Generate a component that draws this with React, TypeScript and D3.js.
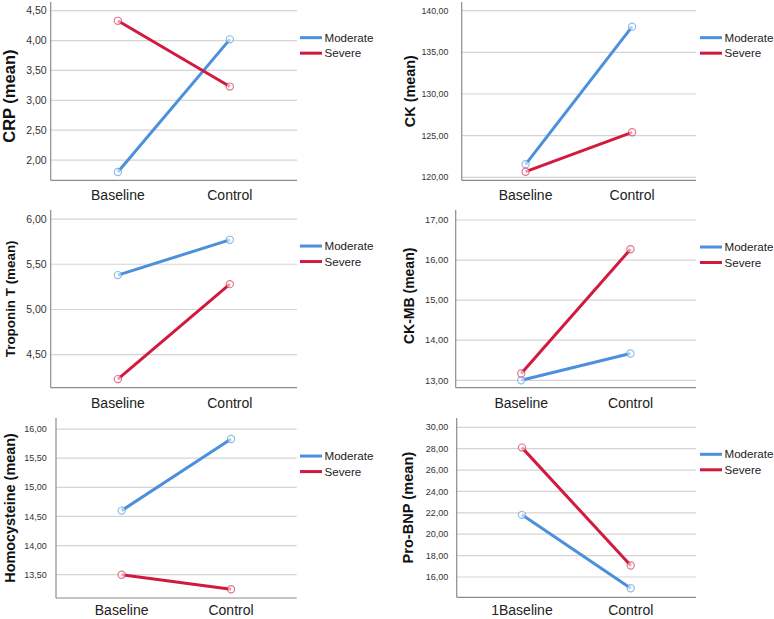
import * as d3 from "d3";

const categories = ["Baseline", "Control"];
const categoriesBnp = ["1Baseline", "Control"];
const seriesNames = ["Moderate", "Severe"];

const crpModerate = [1.8, 4.02];
const crpSevere = [4.33, 3.23];
const ckModerate = [121.56, 138.08];
const ckSevere = [120.67, 125.4];
const tropModerate = [5.38, 5.77];
const tropSevere = [4.23, 5.28];
const ckmbModerate = [13.0, 13.67];
const ckmbSevere = [13.17, 16.27];
const homoModerate = [14.6, 15.83];
const homoSevere = [13.5, 13.25];
const bnpModerate = [21.81, 14.94];
const bnpSevere = [28.1, 17.07];

const crpTicks = [2, 2.5, 3, 3.5, 4, 4.5];
const ckTicks = [120, 125, 130, 135, 140];
const tropTicks = [4.5, 5, 5.5, 6];
const ckmbTicks = [13, 14, 15, 16, 17];
const homoTicks = [13.5, 14, 14.5, 15, 15.5, 16];
const bnpTicks = [16, 18, 20, 22, 24, 26, 28, 30];

const colors = ["#4a90dc", "#d21a40"];
const font = "'Liberation Sans', Arial, sans-serif";

const fmt = (v: number) => d3.format(".2f")(v).replace(".", ",");

type Panel = {
  label: string;
  cats: string[];
  values: number[][];
  ticks: number[];
  domain: [number, number];
  left: number;
  right: number;
  top: number;
  bottom: number;
  tickX: number;
  tickSize: number;
  labelSize: number;
  labelX: number;
  labelDy: number;
  legendX: number;
};

const panels: Panel[] = [
  { label: "CRP (mean)", cats: categories, values: [crpModerate, crpSevere], ticks: crpTicks, domain: [1.662, 4.645],
    left: 50.7, right: 297, top: 2, bottom: 180.3, tickX: 46.7, tickSize: 10.5, labelSize: 16.5, labelX: 14.5, labelDy: 5, legendX: 300 },
  { label: "CK (mean)", cats: categories, values: [ckModerate, ckSevere], ticks: ckTicks, domain: [119.64, 141.04],
    left: 461.7, right: 696, top: 2, bottom: 180.3, tickX: 448.3, tickSize: 8.8, labelSize: 14.4, labelX: 414.5, labelDy: 0, legendX: 700 },
  { label: "Troponin T (mean)", cats: categories, values: [tropModerate, tropSevere], ticks: tropTicks, domain: [4.135, 6.1],
    left: 50.7, right: 297, top: 210, bottom: 387.7, tickX: 46.7, tickSize: 10.5, labelSize: 13.4, labelX: 14.5, labelDy: 0, legendX: 300 },
  { label: "CK-MB (mean)", cats: categories, values: [ckmbModerate, ckmbSevere], ticks: ckmbTicks, domain: [12.815, 17.25],
    left: 455.7, right: 696, top: 210, bottom: 387.7, tickX: 448.3, tickSize: 9.3, labelSize: 14, labelX: 413.5, labelDy: -3, legendX: 700 },
  { label: "Homocysteine (mean)", cats: categories, values: [homoModerate, homoSevere], ticks: homoTicks, domain: [13.1, 16.19],
    left: 56, right: 296.7, top: 418, bottom: 598, tickX: 46.7, tickSize: 9, labelSize: 14.4, labelX: 14.5, labelDy: 0, legendX: 300 },
  { label: "Pro-BNP (mean)", cats: categoriesBnp, values: [bnpModerate, bnpSevere], ticks: bnpTicks, domain: [14.1, 30.87],
    left: 456.7, right: 696, top: 418, bottom: 597.3, tickX: 448.3, tickSize: 9, labelSize: 14.6, labelX: 413, labelDy: 0, legendX: 700 },
];

function Chart({ p }: { p: Panel }) {
  const x = d3.scalePoint<string>().domain(p.cats).range([p.left, p.right]).padding(0.6);
  const y = d3.scaleLinear().domain(p.domain).range([p.bottom, p.top]);
  const line = d3
    .line<number>()
    .x((_, i) => x(p.cats[i]) as number)
    .y((d) => y(d));
  const legendTop = y(p.ticks[p.ticks.length - 1]) + 27;
  const catY = Math.min(p.bottom + 20, 615);

  return (
    <g fontFamily={font}>
      {p.ticks.map((t) => (
        <g key={t}>
          <line x1={p.left} x2={p.right} y1={y(t)} y2={y(t)} stroke="#d4d4d4" strokeWidth={1.2} />
          <text x={p.tickX} y={y(t)} dy="0.35em" textAnchor="end" fontSize={p.tickSize} fill="#333">
            {fmt(t)}
          </text>
        </g>
      ))}
      <line x1={p.left} x2={p.left} y1={p.top} y2={p.bottom} stroke="#8c8c8c" strokeWidth={1.2} />
      <line x1={p.left} x2={p.right} y1={p.bottom} y2={p.bottom} stroke="#8c8c8c" strokeWidth={1.2} />
      {p.cats.map((c) => (
        <text key={c} x={x(c)} y={catY} textAnchor="middle" fontSize={14} fill="#222">
          {c}
        </text>
      ))}
      <text
        transform={`translate(${p.labelX},${(p.top + p.bottom) / 2 + p.labelDy}) rotate(-90)`}
        textAnchor="middle"
        fontSize={p.labelSize}
        fontWeight="bold"
        fill="#111"
      >
        {p.label}
      </text>
      {p.values.map((vals, si) => (
        <g key={si}>
          <path d={line(vals) ?? ""} fill="none" stroke={colors[si]} strokeWidth={3} />
          {vals.map((v, i) => (
            <circle
              key={i}
              cx={x(p.cats[i])}
              cy={y(v)}
              r={3.6}
              fill="rgba(255,255,255,0.55)"
              stroke={colors[si]}
              strokeOpacity={0.6}
              strokeWidth={1.2}
            />
          ))}
        </g>
      ))}
      {seriesNames.map((s, si) => {
        const ly = legendTop + si * 15.5;
        return (
          <g key={s}>
            <line x1={p.legendX} x2={p.legendX + 22} y1={ly} y2={ly} stroke={colors[si]} strokeWidth={3} />
            <text x={p.legendX + 24.5} y={ly} dy="0.35em" fontSize={11.6} fill="#222">
              {s}
            </text>
          </g>
        );
      })}
    </g>
  );
}

export default function App() {
  return (
    <svg
      width={774}
      height={619}
      style={{ position: "absolute", left: 0, top: 0, background: "#fff" }}
    >
      <rect width={774} height={619} fill="#fff" />
      {panels.map((p) => (
        <Chart key={p.label} p={p} />
      ))}
    </svg>
  );
}
